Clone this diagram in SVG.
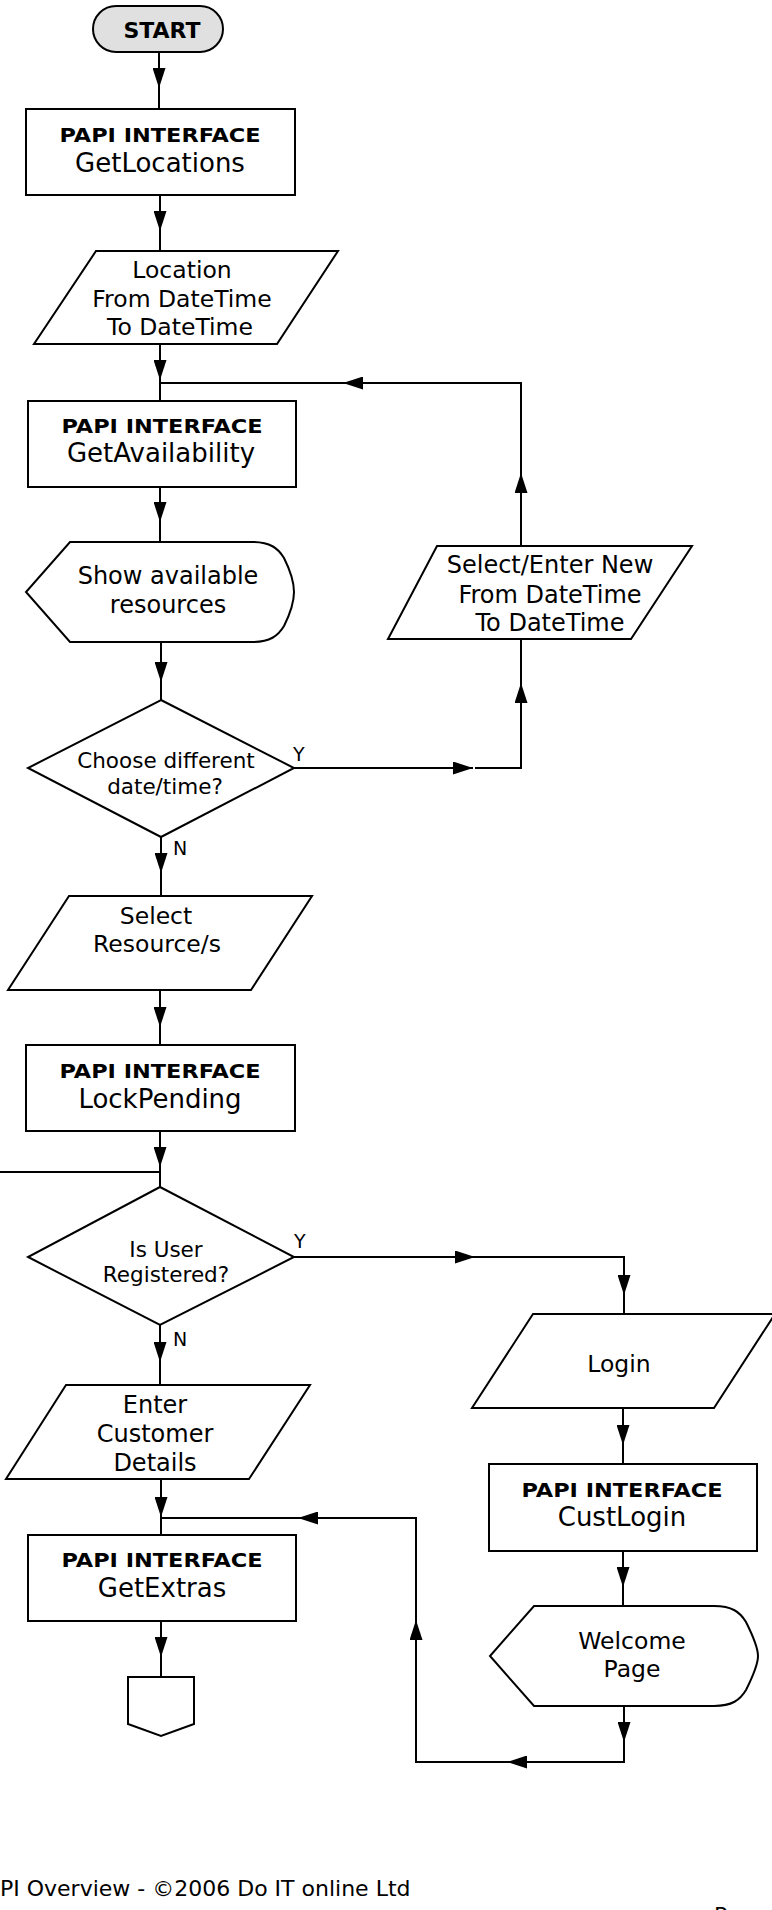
<svg xmlns="http://www.w3.org/2000/svg" width="772" height="1910" viewBox="0 0 772 1910">
<style>
.s{fill:#fff;stroke:#000;stroke-width:2}
.c{fill:none;stroke:#000;stroke-width:2}
.t{font-family:"DejaVu Sans",Verdana,sans-serif;fill:#000;text-anchor:middle}
.m{font-size:23.5px}
.m2{font-size:24px}
.n{font-size:26px}
.b{font-size:20px;font-weight:bold}
.d{font-size:21.5px}
.l{font-family:"DejaVu Sans",Verdana,sans-serif;font-size:19px;fill:#000}
.f{font-family:"DejaVu Sans",Verdana,sans-serif;font-size:22px;fill:#000}
</style>
<defs>
<marker id="ah" viewBox="0 0 20 13" refX="20" refY="6.5" markerWidth="20" markerHeight="13" markerUnits="userSpaceOnUse" orient="auto">
<path d="M0,0 L20,6.5 L0,13 Z" fill="#000"/>
</marker>
</defs>
<rect width="772" height="1910" fill="#fff"/>

<g id="connectors">
<path class="c" d="M159,52 V88" marker-end="url(#ah)"/><path class="c" d="M159,88 V109"/>
<path class="c" d="M160,195 V231" marker-end="url(#ah)"/><path class="c" d="M160,231 V251"/>
<path class="c" d="M160,344 V380" marker-end="url(#ah)"/><path class="c" d="M160,380 V401"/>
<path class="c" d="M160,487 V522" marker-end="url(#ah)"/><path class="c" d="M160,522 V542"/>
<path class="c" d="M161,642 V682" marker-end="url(#ah)"/><path class="c" d="M161,682 V700"/>
<path class="c" d="M294,768 H473" marker-end="url(#ah)"/><path class="c" d="M475,768 H521 V683"/>
<path class="c" d="M521,768 V683" marker-end="url(#ah)"/><path class="c" d="M521,683 V639"/>
<path class="c" d="M521,546 V473" marker-end="url(#ah)"/><path class="c" d="M521,473 V383 H343"/>
<path class="c" d="M521,383 H343" marker-end="url(#ah)"/><path class="c" d="M343,383 H160"/>
<path class="c" d="M161,837 V873" marker-end="url(#ah)"/><path class="c" d="M161,873 V896"/>
<path class="c" d="M160,990 V1027" marker-end="url(#ah)"/><path class="c" d="M160,1027 V1045"/>
<path class="c" d="M160,1131 V1167" marker-end="url(#ah)"/><path class="c" d="M160,1167 V1187"/>
<path class="c" d="M0,1172 H160"/>
<path class="c" d="M294,1257 H475" marker-end="url(#ah)"/><path class="c" d="M475,1257 H624 V1295"/>
<path class="c" d="M624,1257 V1295" marker-end="url(#ah)"/><path class="c" d="M624,1295 V1314"/>
<path class="c" d="M160,1325 V1362" marker-end="url(#ah)"/><path class="c" d="M160,1362 V1385"/>
<path class="c" d="M623,1408 V1445" marker-end="url(#ah)"/><path class="c" d="M623,1445 V1464"/>
<path class="c" d="M161,1479 V1517" marker-end="url(#ah)"/><path class="c" d="M161,1517 V1535"/>
<path class="c" d="M623,1551 V1587" marker-end="url(#ah)"/><path class="c" d="M623,1587 V1606"/>
<path class="c" d="M161,1621 V1657" marker-end="url(#ah)"/><path class="c" d="M161,1657 V1677"/>
<path class="c" d="M624,1706 V1742" marker-end="url(#ah)"/><path class="c" d="M624,1742 V1762 H507"/>
<path class="c" d="M624,1762 H507" marker-end="url(#ah)"/><path class="c" d="M507,1762 H416 V1620"/>
<path class="c" d="M416,1762 V1620" marker-end="url(#ah)"/><path class="c" d="M416,1620 V1518 H298"/>
<path class="c" d="M416,1518 H298" marker-end="url(#ah)"/><path class="c" d="M298,1518 H161"/>
<text class="l" x="293" y="761">Y</text>
<text class="l" x="173" y="855">N</text>
<text class="l" x="294" y="1248">Y</text>
<text class="l" x="173" y="1346">N</text>
</g>

<g id="start">
<rect x="93" y="6" width="130" height="46" rx="23" ry="23" fill="#e0e0e0" stroke="#000" stroke-width="2"/>
<text class="t" x="162" y="38" style="font-size:22px;font-weight:bold">START</text>
</g>

<g id="getlocations">
<rect class="s" x="26" y="109" width="269" height="86"/>
<text class="t b" x="160" y="142" textLength="201" lengthAdjust="spacingAndGlyphs">PAPI INTERFACE</text>
<text class="t n" x="160" y="172">GetLocations</text>
</g>

<g id="location">
<polygon class="s" points="96,251 338,251 277,344 34,344"/>
<text class="t m" x="182" y="278">Location</text>
<text class="t m" x="182" y="307">From DateTime</text>
<text class="t m" x="180" y="335">To DateTime</text>
</g>

<g id="getavailability">
<rect class="s" x="28" y="401" width="268" height="86"/>
<text class="t b" x="162" y="433" textLength="201" lengthAdjust="spacingAndGlyphs">PAPI INTERFACE</text>
<text class="t n" x="161" y="462">GetAvailability</text>
</g>

<g id="showresources">
<path class="s" d="M70,542 H252 C270,542 278,548 284,558 C290,570 294,584 294,592 C294,600 290,614 284,626 C278,636 270,642 252,642 H70 L26,592 Z"/>
<text class="t m2" x="168" y="584">Show available</text>
<text class="t m2" x="168" y="613">resources</text>
</g>

<g id="choosedate">
<polygon class="s" points="161,700 294,768 161,837 28,768"/>
<text class="t d" x="166" y="768">Choose different</text>
<text class="t d" x="165" y="794">date/time?</text>
</g>

<g id="newdatetime">
<polygon class="s" points="437,546 692,546 631,639 388,639"/>
<text class="t m2" x="550" y="573">Select/Enter New</text>
<text class="t m2" x="550" y="603">From DateTime</text>
<text class="t m2" x="550" y="631">To DateTime</text>
</g>

<g id="selectresource">
<polygon class="s" points="69,896 312,896 251,990 8,990"/>
<text class="t m" x="156" y="924">Select</text>
<text class="t m" x="157" y="952">Resource/s</text>
</g>

<g id="lockpending">
<rect class="s" x="26" y="1045" width="269" height="86"/>
<text class="t b" x="160" y="1078" textLength="201" lengthAdjust="spacingAndGlyphs">PAPI INTERFACE</text>
<text class="t n" x="160" y="1108">LockPending</text>
</g>

<g id="isregistered">
<polygon class="s" points="160,1187 294,1257 160,1325 28,1257"/>
<text class="t d" x="166" y="1257">Is User</text>
<text class="t d" x="166" y="1282">Registered?</text>
</g>

<g id="login">
<polygon class="s" points="533,1314 775,1314 714,1408 472,1408"/>
<text class="t m" x="619" y="1372">Login</text>
</g>

<g id="customerdetails">
<polygon class="s" points="66,1385 310,1385 249,1479 6,1479"/>
<text class="t m2" x="155" y="1413">Enter</text>
<text class="t m2" x="155" y="1442">Customer</text>
<text class="t m2" x="155" y="1471">Details</text>
</g>

<g id="custlogin">
<rect class="s" x="489" y="1464" width="268" height="87"/>
<text class="t b" x="622" y="1497" textLength="201" lengthAdjust="spacingAndGlyphs">PAPI INTERFACE</text>
<text class="t n" x="622" y="1526">CustLogin</text>
</g>

<g id="getextras">
<rect class="s" x="28" y="1535" width="268" height="86"/>
<text class="t b" x="162" y="1567" textLength="201" lengthAdjust="spacingAndGlyphs">PAPI INTERFACE</text>
<text class="t n" x="162" y="1597">GetExtras</text>
</g>

<g id="welcome">
<path class="s" d="M534,1606 H714 C732,1606 740,1612 746,1622 C752,1634 758,1648 758,1656 C758,1664 752,1678 746,1690 C740,1700 732,1706 714,1706 H534 L490,1656 Z"/>
<text class="t m" x="632" y="1649">Welcome</text>
<text class="t m" x="632" y="1677">Page</text>
</g>

<g id="offpage">
<polygon class="s" points="128,1677 194,1677 194,1724 161,1736 128,1724"/>
</g>

<g id="footer">
<text class="f" x="0" y="1896">PI Overview - ©2006 Do IT online Ltd</text>
<text class="f" x="714" y="1923">P</text>
</g>
</svg>
